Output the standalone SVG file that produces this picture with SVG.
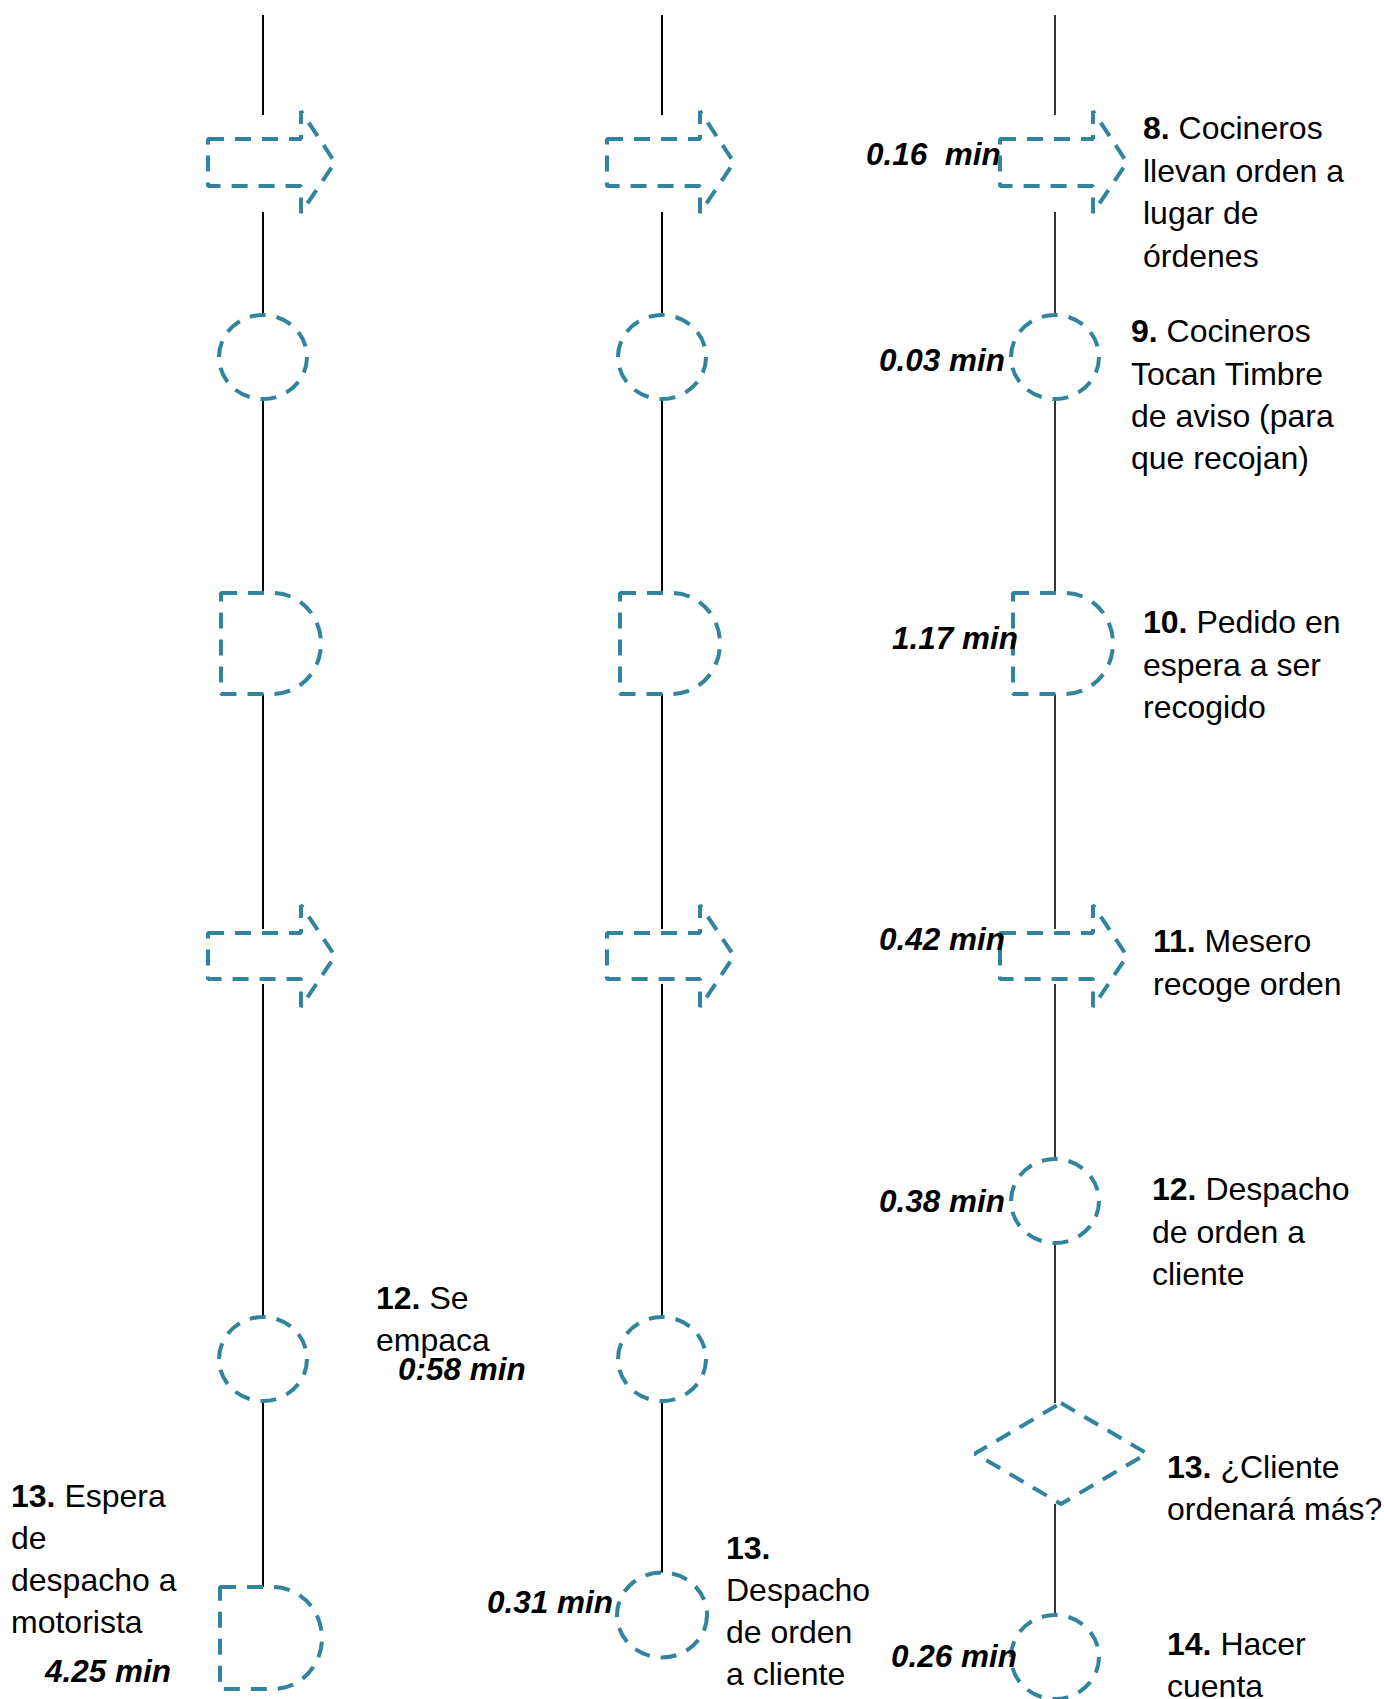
<svg xmlns="http://www.w3.org/2000/svg" width="1384" height="1699" viewBox="0 0 1384 1699">
  <style>
    .conn { stroke: #000; stroke-width: 2; fill: none; }
    .thin { stroke-width: 1.6; }
    .sym { fill: #fff; stroke: #31849b; stroke-width: 4; stroke-dasharray: 16 11; stroke-linejoin: bevel; }
    .lbl { font-family: "Liberation Sans", Arial, sans-serif; font-size: 32px; fill: #000; }
    .num { font-weight: bold; }
    .time { font-family: "Liberation Sans", Arial, sans-serif; font-size: 31.5px; font-weight: bold; font-style: italic; fill: #000; }
  </style>
  <rect width="1384" height="1699" fill="#fff"/>

  <!-- connectors -->
  <g id="connectors">
    <!-- column 1 -->
    <line class="conn" x1="263" y1="15" x2="263" y2="115"/>
    <line class="conn" x1="263" y1="212" x2="263" y2="315"/>
    <line class="conn" x1="263" y1="401" x2="263" y2="593"/>
    <line class="conn" x1="263" y1="694" x2="263" y2="929"/>
    <line class="conn" x1="263" y1="984" x2="263" y2="1317"/>
    <line class="conn" x1="263" y1="1401" x2="263" y2="1587"/>
    <!-- column 2 -->
    <line class="conn" x1="662" y1="15" x2="662" y2="115"/>
    <line class="conn" x1="662" y1="212" x2="662" y2="315"/>
    <line class="conn" x1="662" y1="401" x2="662" y2="593"/>
    <line class="conn" x1="662" y1="694" x2="662" y2="929"/>
    <line class="conn" x1="662" y1="984" x2="662" y2="1317"/>
    <line class="conn" x1="662" y1="1401" x2="662" y2="1573"/>
    <!-- column 3 -->
    <line class="conn thin" x1="1055" y1="15" x2="1055" y2="115"/>
    <line class="conn thin" x1="1055" y1="212" x2="1055" y2="315"/>
    <line class="conn thin" x1="1055" y1="401" x2="1055" y2="593"/>
    <line class="conn thin" x1="1055" y1="694" x2="1055" y2="929"/>
    <line class="conn thin" x1="1055" y1="984" x2="1055" y2="1159"/>
    <line class="conn thin" x1="1055" y1="1243" x2="1055" y2="1403"/>
    <line class="conn thin" x1="1055" y1="1504" x2="1055" y2="1615"/>
  </g>

  <!-- label partly covered by the transport arrow -->
  <text class="time" x="866" y="165" xml:space="preserve">0.16  min</text>

  <!-- column 1 -->
  <g id="c1-transport-1"><path class="sym" d="M208 139 H301 V111 L335 162.5 L301 213 V186 H208 Z"/></g>
  <g id="c1-operation-1"><ellipse class="sym" cx="263" cy="357" rx="44" ry="42"/></g>
  <g id="c1-delay-1"><path class="sym" d="M221 593 H273 A48 50.5 0 0 1 273 694 H221 Z"/></g>
  <g id="c1-transport-2"><path class="sym" d="M208 933 H301 V905 L335 956 L301 1007 V979 H208 Z"/></g>
  <g id="c1-operation-2">
    <ellipse class="sym" cx="263" cy="1359" rx="44" ry="42"/>
    <text class="lbl" x="376" y="1309"><tspan class="num">12.</tspan> Se</text>
    <text class="lbl" x="376" y="1351">empaca</text>
    <text class="time" x="398" y="1380">0:58 min</text>
  </g>
  <g id="c1-delay-2">
    <path class="sym" d="M220 1587 H273 A49 51 0 0 1 273 1689 H220 Z"/>
    <text class="lbl" x="11" y="1507"><tspan class="num">13.</tspan> Espera</text>
    <text class="lbl" x="11" y="1549">de</text>
    <text class="lbl" x="11" y="1591">despacho a</text>
    <text class="lbl" x="11" y="1633">motorista</text>
    <text class="time" x="45" y="1682">4.25 min</text>
  </g>

  <!-- column 2 -->
  <g id="c2-transport-1"><path class="sym" d="M607 139 H700 V111 L734 162.5 L700 213 V186 H607 Z"/></g>
  <g id="c2-operation-1"><ellipse class="sym" cx="662" cy="357" rx="44" ry="42"/></g>
  <g id="c2-delay-1"><path class="sym" d="M620 593 H672 A48 50.5 0 0 1 672 694 H620 Z"/></g>
  <g id="c2-transport-2"><path class="sym" d="M607 933 H700 V905 L734 956 L700 1007 V979 H607 Z"/></g>
  <g id="c2-operation-2"><ellipse class="sym" cx="662" cy="1359" rx="44" ry="42"/></g>
  <g id="c2-operation-3">
    <ellipse class="sym" cx="662" cy="1615" rx="45" ry="42.5"/>
    <text class="time" x="487" y="1613">0.31 min</text>
    <text class="lbl" x="726" y="1559"><tspan class="num">13.</tspan></text>
    <text class="lbl" x="726" y="1601">Despacho</text>
    <text class="lbl" x="726" y="1643">de orden</text>
    <text class="lbl" x="726" y="1685">a cliente</text>
  </g>

  <!-- column 3 -->
  <g id="c3-transport-1">
    <path class="sym" d="M1000 139 H1093 V111 L1127 162.5 L1093 213 V186 H1000 Z"/>
    <text class="lbl" x="1143" y="139"><tspan class="num">8.</tspan> Cocineros</text>
    <text class="lbl" x="1143" y="181.5">llevan orden a</text>
    <text class="lbl" x="1143" y="224">lugar de</text>
    <text class="lbl" x="1143" y="266.5">órdenes</text>
  </g>
  <g id="c3-operation-1">
    <ellipse class="sym" cx="1055" cy="357" rx="44" ry="42"/>
    <text class="time" x="879" y="371">0.03 min</text>
    <text class="lbl" x="1131" y="342"><tspan class="num">9.</tspan> Cocineros</text>
    <text class="lbl" x="1131" y="384.5">Tocan Timbre</text>
    <text class="lbl" x="1131" y="427">de aviso (para</text>
    <text class="lbl" x="1131" y="469">que recojan)</text>
  </g>
  <g id="c3-delay-1">
    <path class="sym" d="M1013 593 H1065 A48 50.5 0 0 1 1065 694 H1013 Z"/>
    <text class="time" x="892" y="649">1.17 min</text>
    <text class="lbl" x="1143" y="633"><tspan class="num">10.</tspan> Pedido en</text>
    <text class="lbl" x="1143" y="675.5">espera a ser</text>
    <text class="lbl" x="1143" y="718">recogido</text>
  </g>
  <g id="c3-transport-2">
    <path class="sym" d="M1000 933 H1093 V905 L1127 956 L1093 1007 V979 H1000 Z"/>
    <text class="time" x="879" y="950">0.42 min</text>
    <text class="lbl" x="1153" y="952"><tspan class="num">11.</tspan> Mesero</text>
    <text class="lbl" x="1153" y="994.5">recoge orden</text>
  </g>
  <g id="c3-operation-2">
    <ellipse class="sym" cx="1055" cy="1201" rx="44" ry="42"/>
    <text class="time" x="879" y="1212">0.38 min</text>
    <text class="lbl" x="1152" y="1200"><tspan class="num">12.</tspan> Despacho</text>
    <text class="lbl" x="1152" y="1242.5">de orden a</text>
    <text class="lbl" x="1152" y="1285">cliente</text>
  </g>
  <g id="c3-decision">
    <path class="sym" d="M1061 1403 L1147 1453.5 L1061 1504 L975 1453.5 Z"/>
    <text class="lbl" x="1167" y="1478"><tspan class="num">13.</tspan> ¿Cliente</text>
    <text class="lbl" x="1167" y="1520">ordenará más?</text>
  </g>
  <g id="c3-operation-3">
    <ellipse class="sym" cx="1055" cy="1657" rx="44" ry="42"/>
    <text class="time" x="891" y="1667">0.26 min</text>
    <text class="lbl" x="1167" y="1655"><tspan class="num">14.</tspan> Hacer</text>
    <text class="lbl" x="1167" y="1697">cuenta</text>
  </g>
</svg>
